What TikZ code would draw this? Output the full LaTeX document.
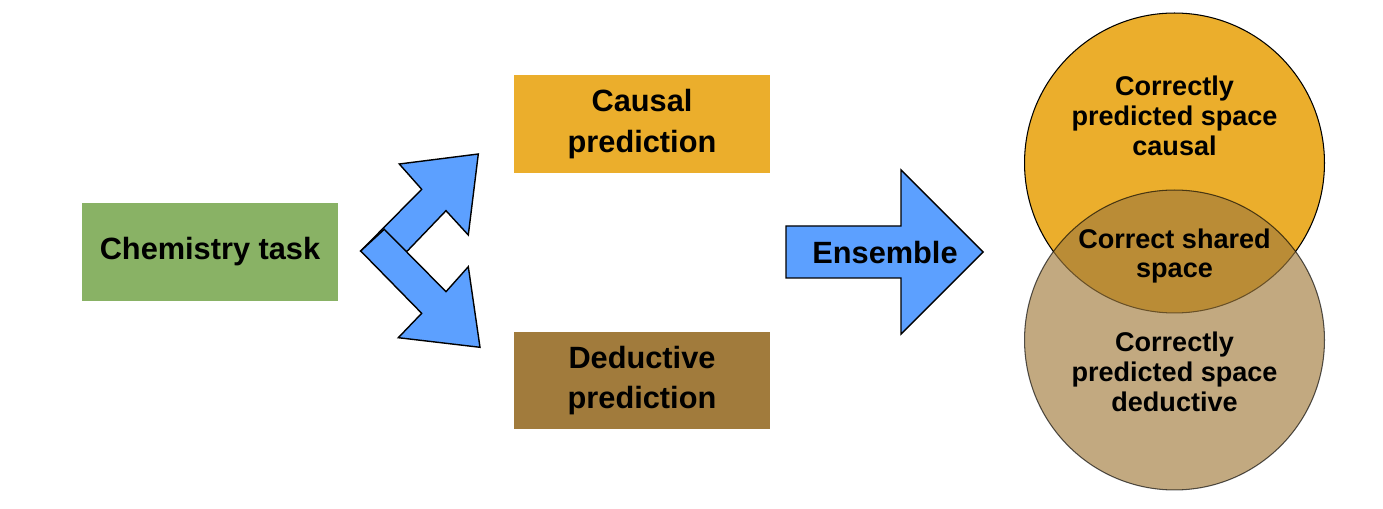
\documentclass[tikz,border=0pt]{standalone}
\usepackage{fontspec}
\setmainfont{Liberation Sans}
\definecolor{taskgreen}{RGB}{137,178,101}
\definecolor{causalgold}{RGB}{235,174,44}
\definecolor{deducbrown}{RGB}{161,123,60}
\definecolor{arrowblue}{RGB}{92,160,255}
\tikzset{
  predbox/.style={minimum width=5.12cm, minimum height=1.96cm, align=center,
    font=\fontsize{17.5}{23}\selectfont\bfseries},
  bigarrow/.style={fill=arrowblue, draw=black, line width=0.8pt, line join=miter},
  venntext/.style={align=center, font=\fontsize{15.4}{17}\selectfont\bfseries}
}
\begin{document}
\begin{tikzpicture}[x=0.02cm, y=-0.02cm]
      \useasboundingbox (0,0) rectangle (1383,509);

      % boxes
      \node[predbox, fill=taskgreen] (task) at (210,252) {Chemistry task};
      \node[predbox, fill=causalgold] (causal) at (642,124) {Causal\\prediction};
      \node[predbox, fill=deducbrown] (deduc) at (642,380.5) {Deductive\\prediction};

      % split arrow
      \draw[bigarrow] (360.7,251) -- (421.7,189.3) -- (399.3,164) -- (478.3,154)
        -- (468.3,235) -- (446,210.7) -- (408.3,250) -- (390,266.7) -- cycle; % up
      \draw[bigarrow] (360.7,251) -- (384.3,229.3) -- (446,291.7) -- (468.3,266.7)
        -- (480,347.3) -- (398.3,337.7) -- (421.7,313.3) -- cycle; % down

      % ensemble arrow
      \draw[bigarrow] (786,226) -- (901,226) -- (901,170) -- (983,252)
        -- (901,334) -- (901,278) -- (786,278) -- cycle;
      \node[font=\fontsize{17.5}{21}\selectfont\bfseries] (ens) at (885,253) {Ensemble};

      % venn
      \draw[fill=causalgold, line width=0.6pt] (1174.5,163) circle (3cm);
      \draw[fill=deducbrown, opacity=0.65, line width=0.6pt] (1174.5,340) circle (3cm);
      \node[venntext] (causalspace) at (1174.5,116) {Correctly\\predicted space\\causal};
      \node[venntext] (sharedspace) at (1174.5,256) {Correct shared\\space};
      \node[venntext] (deducspace) at (1174.5,372) {Correctly\\predicted space\\deductive};
\end{tikzpicture}
\end{document}
